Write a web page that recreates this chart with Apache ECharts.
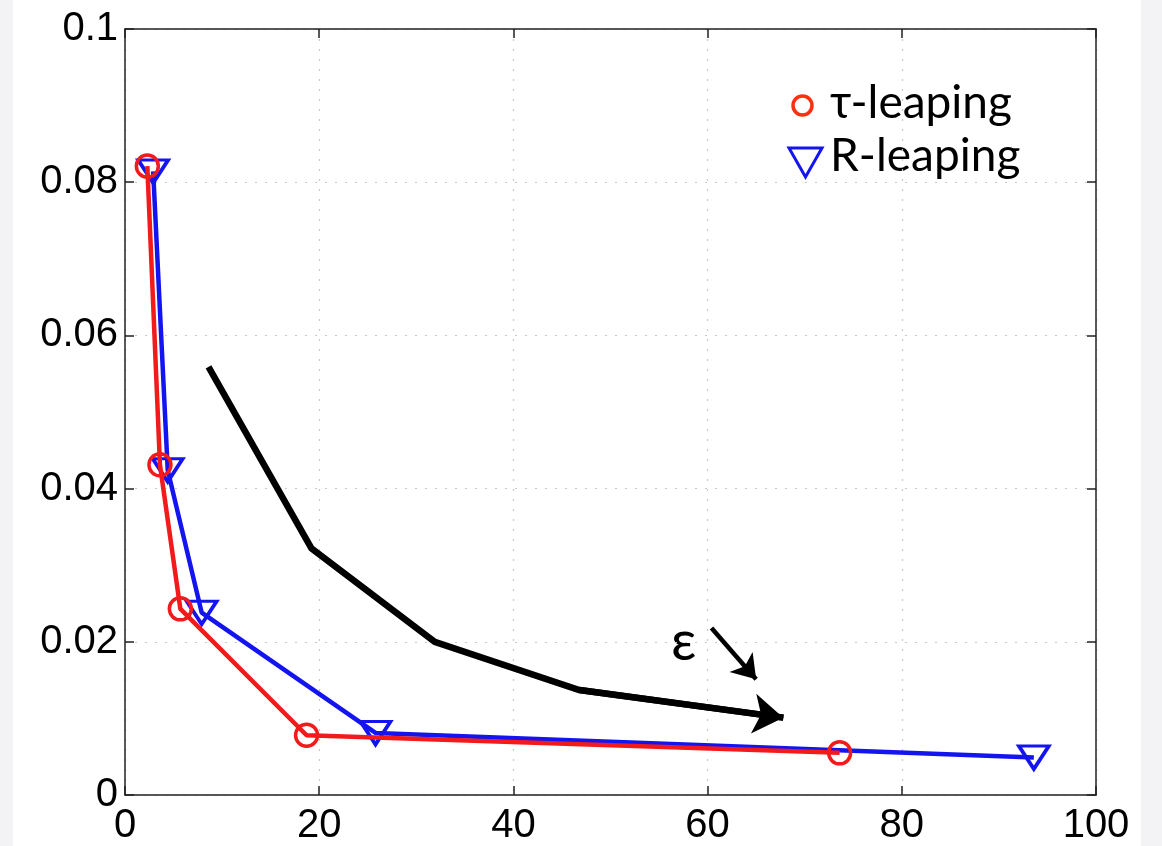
<!DOCTYPE html>
<html>
<head>
<meta charset="utf-8">
<script src="https://cdn.jsdelivr.net/npm/echarts@6/dist/echarts.min.js"></script>
<style>
  html, body { margin: 0; padding: 0; background: #fff; }
  #chart { width: 1162px; height: 846px; }
</style>
</head>
<body>
<div id="chart"></div>
<script>
// tau-leaping (red circles)
const tauX = [2.3, 3.6, 5.7, 18.7, 73.6];
const tauY = [0.0821, 0.0431, 0.0243, 0.0078, 0.0055];
// R-leaping (blue triangles)
const rX = [2.9, 4.4, 7.9, 25.8, 93.6];
const rY = [0.0814, 0.0424, 0.0238, 0.0081, 0.0049];
// black "epsilon" guide line
const epsX = [8.6, 19.2, 31.9, 46.8, 67.8];
const epsY = [0.0559, 0.0322, 0.0200, 0.0137, 0.0101];
// small arrow next to the epsilon
const smallArrowX = [60.4, 65.0];
const smallArrowY = [0.0218, 0.0151];

const xTicks = [0, 20, 40, 60, 80, 100];
const yTicks = [0, 0.02, 0.04, 0.06, 0.08, 0.1];
const legendNames = ['τ-leaping', 'R-leaping'];

const RED = '#f21a1a';
const BLUE = '#1414f0';
const tickFont = '"Liberation Sans", Arial, sans-serif';
const textFont = 'Lato, "DejaVu Sans", sans-serif';

const zip = (xs, ys) => xs.map((x, i) => [x, ys[i]]);
const epsData = zip(epsX, epsY);
const n = epsData.length;

const chart = echarts.init(document.getElementById('chart'));

const baseAxis = {
    axisLine: { show: true, onZero: false, lineStyle: { color: '#222', width: 1.5 } },
    axisTick: { show: true, inside: true, length: 9, lineStyle: { color: '#222', width: 1.5 } },
};
const gridLine = { show: true, lineStyle: { color: '#c8c8c8', width: 1.2, type: [2, 8] } };

// legend drawn by hand (matlab-style box-less legend with big text)
const legendText = (txt, y) => ({
    type: 'text', x: 830, y: y,
    style: { text: txt, font: '46px ' + textFont, fill: '#000', verticalAlign: 'middle' }
});

chart.setOption({
    backgroundColor: '#fff',
    animation: false,
    grid: { left: 125, right: 66, top: 29, bottom: 51, containLabel: false },
    xAxis: [
        Object.assign({}, baseAxis, {
            type: 'value', min: xTicks[0], max: xTicks[xTicks.length - 1], interval: 20,
            position: 'bottom',
            axisLabel: { color: '#000', fontSize: 40, fontFamily: tickFont, margin: 11 },
            splitLine: gridLine
        }),
        Object.assign({}, baseAxis, {
            type: 'value', min: xTicks[0], max: xTicks[xTicks.length - 1], interval: 20,
            position: 'top', axisLabel: { show: false }, splitLine: { show: false }
        })
    ],
    yAxis: [
        Object.assign({}, baseAxis, {
            type: 'value', min: yTicks[0], max: yTicks[yTicks.length - 1], interval: 0.02,
            position: 'left',
            axisLabel: {
                color: '#000', fontSize: 40, fontFamily: tickFont, margin: 7,
                formatter: v => String(+v.toFixed(2))
            },
            splitLine: gridLine
        }),
        Object.assign({}, baseAxis, {
            type: 'value', min: yTicks[0], max: yTicks[yTicks.length - 1], interval: 0.02,
            position: 'right', axisLabel: { show: false }, splitLine: { show: false }
        })
    ],
    graphic: [
        { type: 'rect', left: 0, top: 0, shape: { width: 13, height: 846 }, style: { fill: '#f3f3f6' }, silent: true },
        { type: 'rect', left: 1141, top: 0, shape: { width: 21, height: 846 }, style: { fill: '#f3f3f6' }, silent: true },
        {
            type: 'circle', shape: { cx: 802.5, cy: 105.5, r: 9.5 },
            style: { fill: 'none', stroke: '#ff3010', lineWidth: 3.5 }
        },
        {
            type: 'polygon', shape: { points: [[789, 148], [822, 148], [805.5, 177]] },
            style: { fill: 'none', stroke: BLUE, lineWidth: 3 }
        },
        legendText(legendNames[0], 103),
        legendText(legendNames[1], 156),
        {
            type: 'text', left: 671, top: 614,
            style: { text: 'ε', fontSize: 56, fontFamily: textFont, fill: '#000' }
        }
    ],
    series: [
        {
            name: 'ε-guide',
            type: 'line',
            data: epsData,
            symbol: 'none',
            lineStyle: { color: '#000', width: 6.5 },
            z: 1,
            markLine: {
                silent: true,
                symbol: ['none', 'arrow'],
                symbolSize: 30,
                label: { show: false },
                lineStyle: { color: '#000', width: 6.5, type: 'solid' },
                data: [
                    [{ coord: epsData[n - 2] }, { coord: epsData[n - 1], symbolSize: 30 }],
                    [
                        { coord: [smallArrowX[0], smallArrowY[0]], lineStyle: { width: 4.5 } },
                        { coord: [smallArrowX[1], smallArrowY[1]], symbolSize: 23 }
                    ]
                ]
            }
        },
        {
            name: legendNames[1],
            type: 'line',
            data: zip(rX, rY),
            symbol: 'triangle',
            symbolRotate: 180,
            symbolSize: [30, 23],
            showAllSymbol: true,
            lineStyle: { color: BLUE, width: 4.5 },
            itemStyle: { color: 'transparent', borderColor: BLUE, borderWidth: 3.5 },
            z: 3
        },
        {
            name: legendNames[0],
            type: 'line',
            data: zip(tauX, tauY),
            symbol: 'circle',
            symbolSize: 22,
            showAllSymbol: true,
            lineStyle: { color: RED, width: 4.5 },
            itemStyle: { color: 'transparent', borderColor: RED, borderWidth: 3.5 },
            z: 4
        }
    ]
});
</script>
</body>
</html>
